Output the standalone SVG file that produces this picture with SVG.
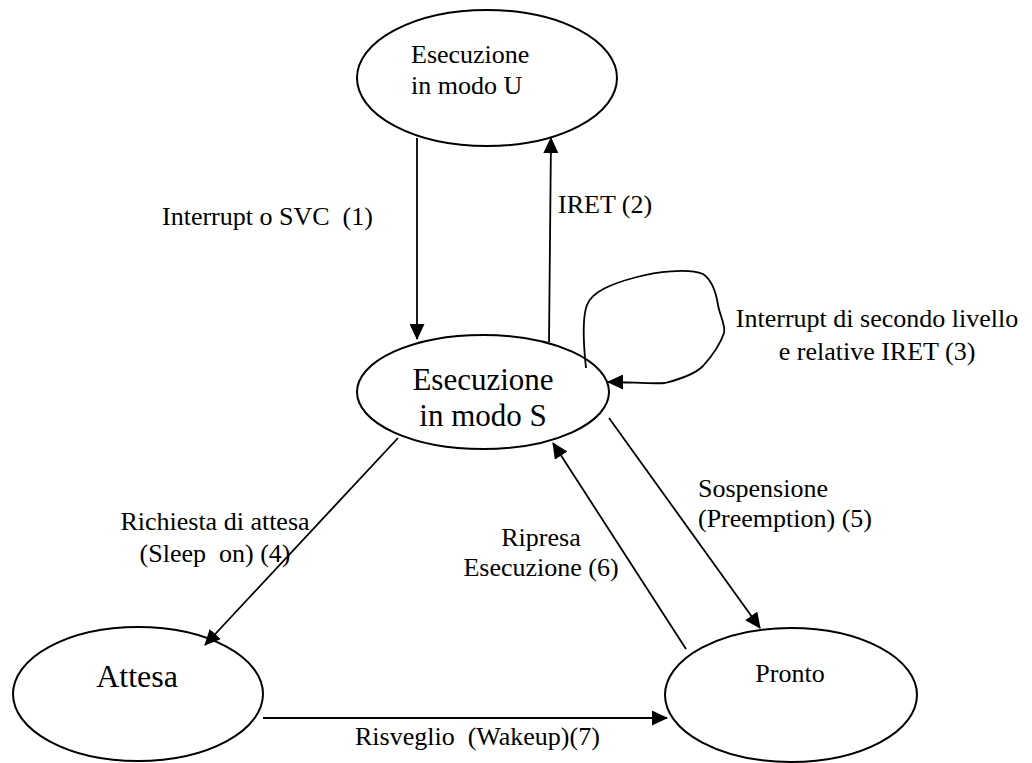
<svg xmlns="http://www.w3.org/2000/svg" width="1032" height="763" viewBox="0 0 1032 763">
  <style>
    .node ellipse { fill: #fff; stroke: #000; stroke-width: 2; }
    .edge { fill: none; stroke: #000; stroke-width: 1.8; }
    text { font-family: "Liberation Serif", "Times New Roman", serif; fill: #000; white-space: pre; }
    .lbl { font-size: 26px; }
  </style>
  <defs>
    <marker id="arrow" markerUnits="userSpaceOnUse" markerWidth="17" markerHeight="15" refX="15" refY="7.5" orient="auto">
      <path d="M0,0 L16,7.5 L0,15 Z" fill="#000"/>
    </marker>
  </defs>
  <rect width="1032" height="763" fill="#fff"/>

  <!-- states -->
  <g id="node-user" class="node">
    <ellipse cx="487" cy="78" rx="130" ry="68"/>
    <text x="411" y="63" font-size="26">Esecuzione</text>
    <text x="411" y="94" font-size="26">in modo U</text>
  </g>
  <g id="node-super" class="node">
    <ellipse cx="483" cy="392" rx="126" ry="57"/>
    <text x="483" y="390" font-size="31" text-anchor="middle">Esecuzione</text>
    <text x="483" y="426" font-size="31" text-anchor="middle">in modo S</text>
  </g>
  <g id="node-attesa" class="node">
    <ellipse cx="138" cy="694" rx="125" ry="67"/>
    <text x="137" y="687" font-size="32" text-anchor="middle">Attesa</text>
  </g>
  <g id="node-pronto" class="node">
    <ellipse cx="791" cy="695" rx="126" ry="67"/>
    <text x="790" y="682" font-size="26" text-anchor="middle">Pronto</text>
  </g>

  <!-- transitions -->
  <g id="connectors">
    <path class="edge" d="M417,138 L417,339" marker-end="url(#arrow)"/>
    <path class="edge" d="M549,342 L551,138" marker-end="url(#arrow)"/>
    <path class="edge" d="M586,368 C583,340 582,318 587,305 C592,292 610,284 637,277 C655,272 688,268 703,274 C712,280 716,292 718,305 C720,316 726,326 724,333 C720,345 712,356 703,366 C696,373 685,378 665,383 C650,384 630,382 608,382" marker-end="url(#arrow)"/>
    <path class="edge" d="M398,438 L205,645" marker-end="url(#arrow)"/>
    <path class="edge" d="M686,649 L553,443" marker-end="url(#arrow)"/>
    <path class="edge" d="M609,418 L760,628" marker-end="url(#arrow)"/>
    <path class="edge" d="M263,718 L667,718" marker-end="url(#arrow)"/>
  </g>

  <!-- transition labels -->
  <g id="labels" class="lbl">
    <text x="162" y="225">Interrupt o SVC  (1)</text>
    <text x="558" y="213">IRET (2)</text>
    <text x="877" y="327" text-anchor="middle">Interrupt di secondo livello</text>
    <text x="877" y="360" text-anchor="middle">e relative IRET (3)</text>
    <text x="215" y="530" text-anchor="middle">Richiesta di attesa</text>
    <text x="215" y="562" text-anchor="middle">(Sleep  on) (4)</text>
    <text x="698" y="497">Sospensione</text>
    <text x="698" y="527">(Preemption) (5)</text>
    <text x="541" y="546" text-anchor="middle">Ripresa</text>
    <text x="541" y="576" text-anchor="middle">Esecuzione (6)</text>
    <text x="355" y="745">Risveglio  (Wakeup)(7)</text>
  </g>
</svg>
